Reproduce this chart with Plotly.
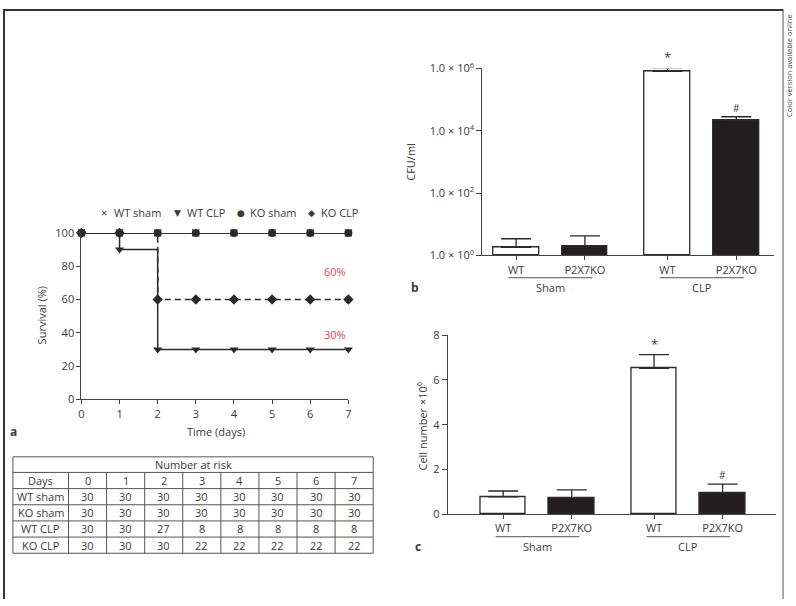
import math
import plotly.graph_objects as go

W, H = 796, 606

# ---------------- Data ----------------
# Panel a: Kaplan-Meier survival (%)
days = [0, 1, 2, 3, 4, 5, 6, 7]
surv_wt_sham = [100, 100, 100, 100, 100, 100, 100, 100]
surv_ko_sham = [100, 100, 100, 100, 100, 100, 100, 100]
surv_wt_clp = [100, 90, 30, 30, 30, 30, 30, 30]
surv_ko_clp = [100, 100, 60, 60, 60, 60, 60, 60]
final_labels = ["60%", "30%"]

# Number at risk table
risk_title = "Number at risk"
risk_header = ["Days", "0", "1", "2", "3", "4", "5", "6", "7"]
risk_groups = ["WT sham", "KO sham", "WT CLP", "KO CLP"]
risk_wt_sham = [30, 30, 30, 30, 30, 30, 30, 30]
risk_ko_sham = [30, 30, 30, 30, 30, 30, 30, 30]
risk_wt_clp = [30, 30, 27, 8, 8, 8, 8, 8]
risk_ko_clp = [30, 30, 30, 22, 22, 22, 22, 22]

# Panels b and c
genotypes = ["WT", "P2X7KO", "WT", "P2X7KO"]
conditions = ["Sham", "Sham", "CLP", "CLP"]
cfu_mean = [1.8, 2.0, 8.0e5, 2.2e4]
cfu_err = [1.6, 2.2, 2.5e5, 6.0e3]
cell_mean = [0.78, 0.74, 6.52, 0.96]
cell_err = [0.26, 0.35, 0.61, 0.39]
sig_marks = ["", "", "*", "#"]
b_ticks = [1, 100, 1e4, 1e6]
b_ticktext = ["1.0 × 10<sup>0</sup>", "1.0 × 10<sup>2</sup>",
              "1.0 × 10<sup>4</sup>", "1.0 × 10<sup>6</sup>"]

# ---------------- Style ----------------
FONT = "Open Sans, Noto Sans, DejaVu Sans, sans-serif"
TXT = "#3a3a3a"
LINE = "#2a2a2a"
AX = "#444444"
GRID = "#555555"
BLACK = "#231f20"
RED = "#e0474c"

B_DOM = (1 - 253 / H, 1 - 61 / H)
C_DOM = (1 - 519 / H, 1 - 335 / H)
B_RANGE = (0, 6)
C_RANGE = (0, 8)


def px(x):
    return x / W


def py(y):
    return 1 - y / H


# x positions of bars: groups separated by an extra gap
group_order = ["Sham", "CLP"]
GROUP_STEP = 2.2
xpos = []
seen = {}
for cond in conditions:
    k = seen.get(cond, 0)
    xpos.append(group_order.index(cond) * GROUP_STEP + k)
    seen[cond] = k + 1
bar_fill = ["white" if g == "WT" else BLACK for g in genotypes]

fig = go.Figure()

# ---------------- Panel a ----------------
marker_common = dict(color=LINE, line=dict(width=0))
fig.add_trace(go.Scatter(x=days, y=surv_wt_sham, mode="lines+markers", line_shape="hv",
                         line=dict(color=LINE, width=1.5),
                         marker=dict(symbol="x-thin", size=7, line=dict(width=1.2, color=LINE)),
                         cliponaxis=False, xaxis="x", yaxis="y"))
fig.add_trace(go.Scatter(x=days, y=surv_ko_clp, mode="lines+markers", line_shape="hv",
                         line=dict(color=LINE, width=1.5, dash="6px,4px"),
                         marker=dict(symbol="diamond", size=8, **marker_common),
                         cliponaxis=False, xaxis="x", yaxis="y"))
fig.add_trace(go.Scatter(x=days, y=surv_wt_clp, mode="lines+markers", line_shape="hv",
                         line=dict(color=LINE, width=1.5),
                         marker=dict(symbol="triangle-down", size=8, **marker_common),
                         cliponaxis=False, xaxis="x", yaxis="y"))
fig.add_trace(go.Scatter(x=days, y=surv_ko_sham, mode="lines+markers", line_shape="hv",
                         line=dict(color=LINE, width=1.5),
                         marker=dict(symbol="circle", size=8, **marker_common),
                         cliponaxis=False, xaxis="x", yaxis="y"))

# ---------------- Panel b ----------------
fig.add_trace(go.Bar(x=xpos, y=[m - 1 for m in cfu_mean], base=1, width=0.665,
                     marker=dict(color=bar_fill, line=dict(color=LINE, width=1.3)),
                     error_y=dict(type="data", symmetric=False, array=cfu_err,
                                  arrayminus=[0, 0, 0, 0], color=LINE, thickness=1.3, width=15),
                     cliponaxis=False, xaxis="x2", yaxis="y2"))

# ---------------- Panel c ----------------
fig.add_trace(go.Bar(x=xpos, y=cell_mean, width=0.665,
                     marker=dict(color=bar_fill, line=dict(color=LINE, width=1.3)),
                     error_y=dict(type="data", symmetric=False, array=cell_err,
                                  arrayminus=[0, 0, 0, 0], color=LINE, thickness=1.3, width=15),
                     cliponaxis=False, xaxis="x3", yaxis="y3"))

axis_font = dict(family=FONT, size=11, color=TXT)
common_axis = dict(showline=True, linecolor=AX, linewidth=1, ticks="outside",
                   tickcolor=AX, ticklen=4, showgrid=False, zeroline=False,
                   tickfont=axis_font, fixedrange=True)

fig.update_layout(
    width=W, height=H, margin=dict(l=0, r=0, t=0, b=0),
    paper_bgcolor="white", plot_bgcolor="white", showlegend=False,
    font=dict(family=FONT, size=11, color=TXT),
    bargap=0,
    xaxis=dict(domain=[px(79), px(348)], range=[0, 7], anchor="y",
               tickvals=days, **common_axis),
    yaxis=dict(domain=[py(401), py(230)], range=[0, 100], anchor="x",
               tickvals=[0, 20, 40, 60, 80, 100], **common_axis),
    xaxis2=dict(domain=[px(483), px(777)], range=[-0.49, 3.75], anchor="y2",
                tickvals=xpos, ticktext=genotypes, **common_axis),
    yaxis2=dict(domain=list(B_DOM), type="log", range=list(B_RANGE), anchor="x2",
                tickvals=b_ticks, ticktext=b_ticktext, **{**common_axis, "ticklen": 5}),
    xaxis3=dict(domain=[px(448), px(779)], range=[-0.81, 3.98], anchor="y3",
                tickvals=xpos, ticktext=genotypes, **common_axis),
    yaxis3=dict(domain=list(C_DOM), range=list(C_RANGE), anchor="x3",
                tickvals=[0, 2, 4, 6, 8], **{**common_axis, "ticklen": 5}),
)

ann = []
shapes = []


def note(text, x, y, size=11, color=TXT, angle=0, xanchor="center", yanchor="middle",
         bold=False, xref="paper", yref="paper"):
    ann.append(dict(text=("<b>%s</b>" % text) if bold else text, x=x, y=y, xref=xref, yref=yref,
                    showarrow=False, textangle=angle, xanchor=xanchor, yanchor=yanchor,
                    font=dict(family=FONT, size=size, color=color)))


def hline(x0, x1, y, color=GRID, width=1):
    shapes.append(dict(type="line", xref="paper", yref="paper", x0=px(x0), x1=px(x1),
                       y0=py(y), y1=py(y), line=dict(color=color, width=width)))


def vline(x, y0, y1, color=GRID, width=1):
    shapes.append(dict(type="line", xref="paper", yref="paper", x0=px(x), x1=px(x),
                       y0=py(y0), y1=py(y1), line=dict(color=color, width=width)))


# Panel a texts
legend_items = [("×", "WT sham", 102, 110), ("▼", "WT CLP", 176, 183),
                ("●", "KO sham", 240, 247), ("◆", "KO CLP", 311, 318)]
for sym, name, sx, tx in legend_items:
    note(sym, px(sx), py(209), size=9 if sym != "×" else 11)
    note(name, px(tx), py(209), xanchor="left")
note(final_labels[0], 7, 77, size=11, color=RED, xanchor="right", xref="x", yref="y")
note(final_labels[1], 7, 39, size=11, color=RED, xanchor="right", xref="x", yref="y")
note("Survival (%)", px(39), py(315), angle=-90)
note("Time (days)", px(215), py(434))
note("a", px(11), py(434), size=12, bold=True)

# ---------------- Number-at-risk table (grid + text) ----------------
TAB_X0, TAB_X1 = 10, 373
FIRST_COL = 56
TAB_Y0 = 460
TITLE_H = 16
ROW_H = 16.6
col_w = (TAB_X1 - TAB_X0 - FIRST_COL) / (len(risk_header) - 1)
col_edges = [TAB_X0, TAB_X0 + FIRST_COL] + [TAB_X0 + FIRST_COL + col_w * (i + 1)
                                             for i in range(len(risk_header) - 1)]
table_rows = [risk_header]
for name, vals in zip(risk_groups, [risk_wt_sham, risk_ko_sham, risk_wt_clp, risk_ko_clp]):
    table_rows.append([name] + [str(v) for v in vals])
row_edges = [TAB_Y0, TAB_Y0 + TITLE_H] + [TAB_Y0 + TITLE_H + ROW_H * (i + 1)
                                          for i in range(len(table_rows))]
for y in row_edges:
    hline(TAB_X0, TAB_X1, y)
vline(TAB_X0, row_edges[0], row_edges[-1])
vline(TAB_X1, row_edges[0], row_edges[-1])
for x in col_edges[1:-1]:
    vline(x, row_edges[1], row_edges[-1])
note(risk_title, px((TAB_X0 + TAB_X1) / 2), py((row_edges[0] + row_edges[1]) / 2))
for r, row in enumerate(table_rows):
    yc = (row_edges[r + 1] + row_edges[r + 2]) / 2
    for c, val in enumerate(row):
        xc = (col_edges[c] + col_edges[c + 1]) / 2
        note(val, px(xc), py(yc))


def to_paper(v, dom, rng, log=False):
    val = math.log10(v) if log else v
    return dom[0] + (val - rng[0]) / (rng[1] - rng[0]) * (dom[1] - dom[0])


# Panel b / c texts
panels = [("x2", [to_paper(cfu_mean[i] + cfu_err[i], B_DOM, B_RANGE, True) for i in range(4)],
           276, 286, "b", 415),
          ("x3", [to_paper(cell_mean[i] + cell_err[i], C_DOM, C_RANGE) for i in range(4)],
           542, 552, "c", 418)]
for xa, tops, underline_y, label_y, letter, letter_x in panels:
    for i, s in enumerate(sig_marks):
        if s:
            note(s, xpos[i], tops[i], size=13 if s == "*" else 10,
                 yanchor="bottom", xref=xa)
    for g in group_order:
        gx = [xpos[i] for i in range(len(xpos)) if conditions[i] == g]
        shapes.append(dict(type="line", xref=xa, yref="paper", x0=min(gx) - 0.11,
                           x1=max(gx) + 0.11, y0=py(underline_y), y1=py(underline_y),
                           line=dict(color=GRID, width=1)))
        note(g, sum(gx) / len(gx), py(label_y), xref=xa)
    note(letter, px(letter_x), py(label_y), size=12, bold=True)

note("CFU/ml", px(411), py(157), angle=-90)
note("Cell number ×10<sup>6</sup>", px(422), py(428), angle=-90)

# Frame lines and side note
vline(1, 0, H, color="#333333", width=2)
hline(0, 786, 1, color="#333333", width=2)
vline(786, 0, H, color="#555555", width=1)
note("Color version available online", px(792.5), py(58), size=7.5, angle=-90,
     color="#444444")

fig.update_layout(annotations=ann, shapes=shapes)
fig.write_html("out.html", config={"displayModeBar": False},
               post_script="document.body.style.margin='0';document.body.style.overflow='hidden';")
